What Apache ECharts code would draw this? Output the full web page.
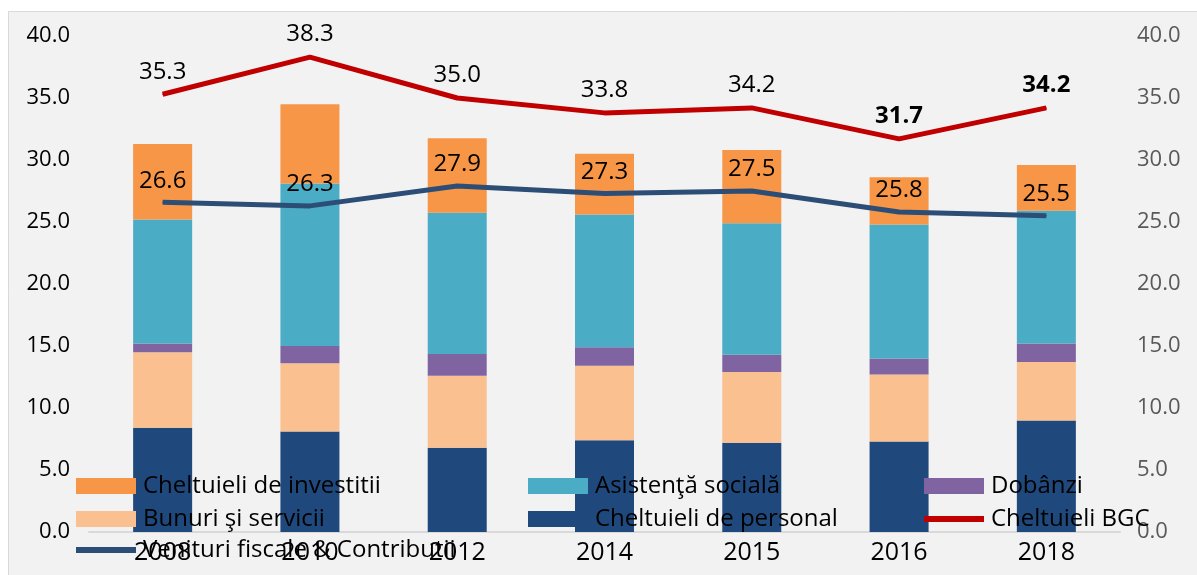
<!DOCTYPE html>
<html>
<head>
<meta charset="utf-8">
<script src="https://cdn.jsdelivr.net/npm/echarts@6/dist/echarts.min.js"></script>
<style>
html,body{margin:0;padding:0;background:#fff;}
#c{width:1197px;height:575px;}
</style>
</head>
<body>
<div id="c"></div>
<script>
const years = ['2008','2010','2012','2014','2015','2016','2018'];
const personal   = [8.4, 8.1, 6.8, 7.4, 7.2, 7.3, 9.0];
const bunuri     = [6.1, 5.5, 5.8, 6.0, 5.7, 5.4, 4.7];
const dobanzi    = [0.7, 1.4, 1.75, 1.5, 1.4, 1.3, 1.5];
const asistenta  = [10.0, 13.1, 11.4, 10.7, 10.6, 10.8, 10.7];
const investitii = [6.1, 6.4, 6.0, 4.9, 5.9, 3.8, 3.7];
const bgc        = [35.3, 38.3, 35.0, 33.8, 34.2, 31.7, 34.2];
const venituri   = [26.6, 26.3, 27.9, 27.3, 27.5, 25.8, 25.5];
const boldBgc    = [false, false, false, false, false, true, true];

const FONT = "'Open Sans', 'Noto Sans', sans-serif";
const chart = echarts.init(document.getElementById('c'), null, {renderer:'canvas'});

function bar(name, data, color){
  return {name, type:'bar', stack:'total', data, barWidth:59,
    itemStyle:{color}, emphasis:{disabled:true}, z:2};
}
function legend(name, left, top, isLine){
  return {data:[name], left, top, orient:'horizontal', padding:0,
    itemWidth:60, itemHeight: isLine ? 6 : 16, icon:'rect', itemGap:0,
    textStyle:{fontSize:24, color:'#000', fontFamily:FONT, lineHeight:24, padding:[0,0,0,2]},
    selectedMode:false};
}
const lblStyle = {fontSize:24, color:'#000', fontFamily:FONT, lineHeight:24};

chart.setOption({
  backgroundColor:'#fff',
  animation:false,
  textStyle:{fontFamily:FONT},
  graphic:[{type:'rect', shape:{x:8.5, y:11.5, width:1220, height:620},
    style:{fill:'#f2f2f2', stroke:'#d9d9d9', lineWidth:1}, z:-10, silent:true}],
  grid:{left:89, right:77, top:36, bottom:43, containLabel:false},
  xAxis:{type:'category', data:years, boundaryGap:true,
    axisTick:{show:false},
    axisLine:{lineStyle:{color:'#d9d9d9', width:2}},
    axisLabel:{fontSize:25, color:'#000', fontFamily:FONT, margin:8, lineHeight:25}},
  yAxis:[
    {type:'value', min:0, max:40, interval:5, splitLine:{show:false},
     axisLine:{show:false}, axisTick:{show:false},
     axisLabel:{fontSize:22, color:'#000', fontFamily:FONT, margin:19, formatter:v=>v.toFixed(1)}},
    {type:'value', min:0, max:40, interval:5, splitLine:{show:false},
     axisLine:{show:false}, axisTick:{show:false}, position:'right',
     axisLabel:{fontSize:22, color:'#595959', fontFamily:FONT, margin:17, formatter:v=>v.toFixed(1)}}
  ],
  legend:[
    legend('Cheltuieli de investitii', 76, 474, false),
    legend('Asistenţă socială', 528, 474, false),
    legend('Dobânzi', 924, 474, false),
    legend('Bunuri şi servicii', 76, 507, false),
    legend('Cheltuieli de personal', 528, 507, false),
    legend('Cheltuieli BGC', 924, 507, true),
    legend('Venituri fiscale & Contributii', 76, 538, true)
  ],
  series:[
    bar('Cheltuieli de personal', personal, '#1f497d'),
    bar('Bunuri şi servicii', bunuri, '#fac090'),
    bar('Dobânzi', dobanzi, '#8064a2'),
    bar('Asistenţă socială', asistenta, '#4bacc6'),
    bar('Cheltuieli de investitii', investitii, '#f79646'),
    {name:'Cheltuieli BGC', type:'line', yAxisIndex:1, z:5,
     data: bgc.map((v,i)=> boldBgc[i] ? {value:v, label:{fontWeight:'bold'}} : v),
     symbol:'circle', symbolSize:1, showSymbol:true,
     lineStyle:{color:'#c00000', width:5}, itemStyle:{color:'#c00000'},
     label:{show:true, position:'top', distance:10, ...lblStyle, formatter:p=>Number(p.value).toFixed(1)},
     emphasis:{disabled:true}},
    {name:'Venituri fiscale & Contributii', type:'line', yAxisIndex:1, z:5,
     data: venituri,
     symbol:'circle', symbolSize:1, showSymbol:true,
     lineStyle:{color:'#2c4d75', width:5}, itemStyle:{color:'#2c4d75'},
     label:{show:true, position:'top', distance:9, ...lblStyle, formatter:p=>Number(p.value).toFixed(1)},
     emphasis:{disabled:true}}
  ]
});
</script>
</body>
</html>
